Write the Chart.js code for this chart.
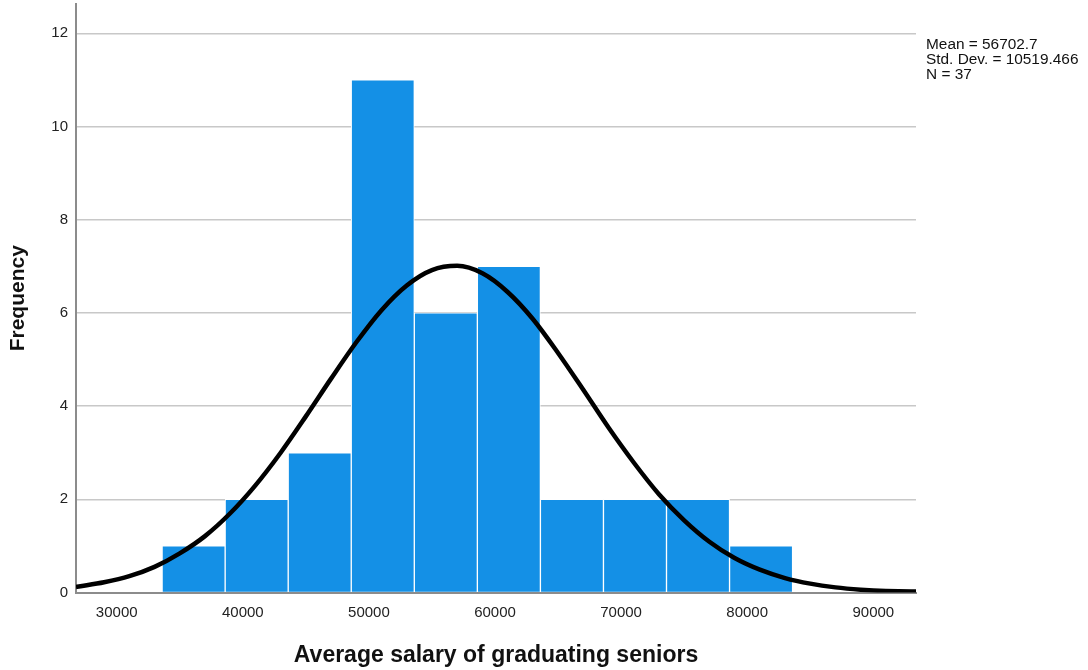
<!DOCTYPE html>
<html>
<head>
<meta charset="utf-8">
<script src="https://cdn.jsdelivr.net/npm/chart.js@4/dist/chart.umd.min.js"></script>
<style>
  html, body { margin: 0; padding: 0; background: #fff; }
  #wrap { position: relative; width: 1088px; height: 670px; }
</style>
</head>
<body>
<div id="wrap"><canvas id="hist" width="1088" height="670"></canvas></div>
<script>
// histogram bins (bin centre, 5000 wide) and counts
const binCentres = [36100, 41100, 46100, 51100, 56100, 61100, 66100, 71100, 76100, 81100];
const counts = [1, 2, 3, 11, 6, 7, 2, 2, 2, 1];

// normal curve
const curveX = [26772, 27000, 29000, 31000, 33000, 35000, 37000, 39000, 41000, 43000, 45000,
  47000, 49000, 51000, 53000, 55000, 57000, 59000, 61000, 63000, 65000, 67000, 69000,
  71000, 73000, 75000, 77000, 79000, 81000, 83000, 85000, 87000, 89000, 91000, 93000, 93386];
const curveY = [0.12, 0.13, 0.22, 0.35, 0.55, 0.84, 1.21, 1.70, 2.30, 3.00, 3.78,
  4.59, 5.37, 6.06, 6.59, 6.92, 7.01, 6.85, 6.45, 5.87, 5.14, 4.35, 3.54,
  2.79, 2.11, 1.55, 1.09, 0.74, 0.49, 0.31, 0.19, 0.11, 0.06, 0.03, 0.02, 0.02];

const xTicks = [30000, 40000, 50000, 60000, 70000, 80000, 90000];
const yTicks = [0, 2, 4, 6, 8, 10, 12];

const statsLines = ['Mean = 56702.7', 'Std. Dev. = 10519.466', 'N = 37'];

const font = '"Liberation Sans", Arial, sans-serif';

const statsBox = {
  id: 'statsBox',
  afterDraw(chart) {
    const ctx = chart.ctx;
    ctx.save();
    ctx.font = '15.4px ' + font;
    ctx.fillStyle = '#111';
    ctx.textBaseline = 'middle';
    statsLines.forEach((t, i) => ctx.fillText(t, 926, 45 + i * 15));
    ctx.restore();
  }
};

new Chart(document.getElementById('hist'), {
  type: 'bar',
  data: {
    datasets: [{
      type: 'line',
      data: curveX.map((x, i) => ({x: x, y: curveY[i]})),
      borderColor: '#000',
      borderWidth: 4.5,
      pointRadius: 0,
      tension: 0.4,
      cubicInterpolationMode: 'monotone',
      order: 0
    }, {
      type: 'bar',
      data: binCentres.map((x, i) => ({x: x, y: counts[i]})),
      backgroundColor: 'rgb(20,144,230)',
      borderColor: '#fff',
      borderWidth: 1,
      barPercentage: 1,
      categoryPercentage: 1,
      order: 1
    }]
  },
  options: {
    responsive: false,
    animation: false,
    layout: {padding: {left: 0, right: 172, top: 4, bottom: 0}},
    plugins: {legend: {display: false}, tooltip: {enabled: false}},
    scales: {
      x: {
        type: 'linear',
        offset: false,
        min: 26772,
        max: 93386,
        afterBuildTicks: s => { s.ticks = xTicks.map(v => ({value: v})); },
        afterFit: s => { s.height = 77.5; s.paddingLeft = 0; s.paddingRight = 0; },
        grid: {display: false, drawTicks: false, offset: false},
        border: {color: '#8c8c8c', width: 2},
        ticks: {
          color: '#222', padding: 11,
          font: {family: font, size: 15},
          callback: v => String(v)
        },
        title: {
          display: true, text: 'Average salary of graduating seniors', color: '#111',
          font: {family: font, size: 23, weight: 'bold'},
          padding: {top: 16, bottom: 1}
        }
      },
      y: {
        min: 0,
        max: 12.63,
        afterBuildTicks: s => { s.ticks = yTicks.map(v => ({value: v})); },
        afterFit: s => { s.width = 76; s.paddingTop = 0; s.paddingBottom = 0; },
        grid: {color: '#c8c8c8', lineWidth: 1.5, drawTicks: false},
        border: {color: '#8c8c8c', width: 2},
        ticks: {
          color: '#222', padding: 8,
          font: {family: font, size: 15}
        },
        title: {
          display: true, text: 'Frequency', color: '#111',
          font: {family: font, size: 21, weight: 'bold'},
          padding: {top: 6, bottom: 0}
        }
      }
    }
  },
  plugins: [statsBox]
});
</script>
</body>
</html>
